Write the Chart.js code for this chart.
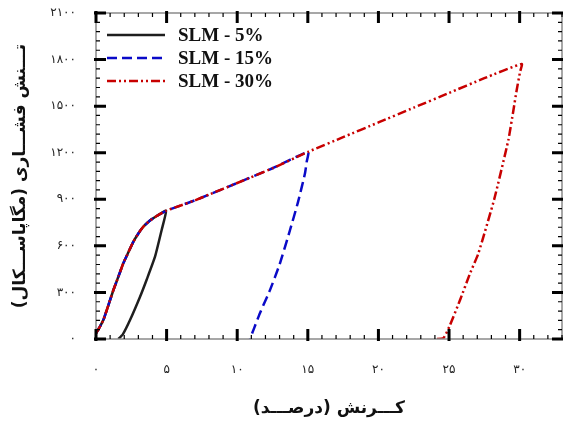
<!DOCTYPE html>
<html>
<head>
<meta charset="utf-8">
<script src="https://cdn.jsdelivr.net/npm/chart.js@4"></script>
<style>
  body { margin: 0; background: #fff; }
  #wrap { width: 563px; height: 421px; }
</style>
</head>
<body>
<div id="wrap"><canvas id="myChart" width="563" height="421"></canvas></div>
<script>
// loading branch shared by all three samples
const loadStrain = [0, 0.25, 0.52, 0.85, 1.23, 1.6, 1.93, 2.3, 2.64, 3.0, 3.35, 3.8, 4.3, 4.96]
const loadStress = [37, 75, 122, 210, 315, 405, 487, 560, 626, 680, 723, 762, 792, 826]
// linear part after the knee
const plateauStrain = [6, 7, 8, 10, 12.5, 15.03, 17.5, 20, 22.5, 25, 27.5, 30.15]
const plateauStress = [860, 893, 930, 1005, 1100, 1206, 1300, 1395, 1490, 1585, 1680, 1772]
// unloading branches
const unload5Strain = [4.96, 4.65, 4.18, 3.6, 3.12, 2.41, 1.9, 1.58]
const unload5Stress = [826, 702, 530, 385, 272, 122, 30, 0]
const unload15Strain = [15.03, 14.92, 14.8, 14.3, 13.74, 13.0, 12.32, 11.6, 11.2, 10.9]
const unload15Stress = [1206, 1141, 1067, 880, 702, 480, 315, 165, 70, 0]
const unload30Strain = [30.15, 30.03, 29.79, 29.56, 29.2, 28.2, 27.08, 26.49, 25.78, 25.07, 24.6, 24.0]
const unload30Stress = [1772, 1721, 1603, 1474, 1281, 900, 552, 423, 251, 90, 5, 0]

const labels = ['SLM - 5%', 'SLM - 15%', 'SLM - 30%']
const xTicks = [0, 5, 10, 15, 20, 25, 30]
const yTicks = [0, 300, 600, 900, 1200, 1500, 1800, 2100]

const faDigits = '۰۱۲۳۴۵۶۷۸۹'
let toFa = (n) => String(n).replace(/\d/g, d => faDigits[d])

let pts = (xs, ys) => xs.map((x, i) => ({x: x, y: ys[i]}))

let nPlat15 = plateauStrain.indexOf(15.03) + 1
const data5 = pts(loadStrain, loadStress).concat(pts(unload5Strain, unload5Stress).slice(1))
const data15 = pts(loadStrain, loadStress)
    .concat(pts(plateauStrain.slice(0, nPlat15), plateauStress.slice(0, nPlat15)))
    .concat(pts(unload15Strain, unload15Stress).slice(1))
const data30 = pts(loadStrain, loadStress)
    .concat(pts(plateauStrain, plateauStress))
    .concat(pts(unload30Strain, unload30Stress).slice(1))

const colors = ['#1e1e1e', '#0a0ac8', '#c80000']
const dashes = [[], [10, 5], [9, 3, 2, 3, 2, 3]]

// inward ticks on all four sides + grey frame
const frame = {
    id: 'frame',
    afterDatasetsDraw(chart) {
        const ctx = chart.ctx
        const a = chart.chartArea
        const sx = chart.scales.x, sy = chart.scales.y
        ctx.save()
        ctx.strokeStyle = '#8a8a8a'
        ctx.lineWidth = 1.5
        ctx.strokeRect(a.left, a.top, a.right - a.left, a.bottom - a.top)
        ctx.strokeStyle = '#000'
        for (let v = 0; v <= 33; v++) {
            const p = sx.getPixelForValue(v)
            const major = v % 5 === 0
            ctx.lineWidth = major ? 3 : 1.2
            const len = major ? 10 : 4
            ctx.beginPath()
            ctx.moveTo(p, a.bottom + (major ? 2 : 0)); ctx.lineTo(p, a.bottom - len)
            ctx.moveTo(p, a.top - (major ? 2 : 0)); ctx.lineTo(p, a.top + len)
            ctx.stroke()
        }
        for (let v = 0; v <= 2100; v += 60) {
            const p = sy.getPixelForValue(v)
            const major = v % 300 === 0
            ctx.lineWidth = major ? 3 : 1.2
            const len = major ? 10 : 4
            ctx.beginPath()
            ctx.moveTo(a.left - (major ? 2 : 0), p); ctx.lineTo(a.left + len, p)
            ctx.moveTo(a.right + (major ? 2 : 0), p); ctx.lineTo(a.right - len, p)
            ctx.stroke()
        }
        // legend inside the plot
        const rows = [35, 58, 81]
        chart.data.datasets.forEach((ds, i) => {
            ctx.strokeStyle = ds.borderColor
            ctx.lineWidth = 2.5
            ctx.setLineDash(ds.borderDash)
            ctx.beginPath()
            ctx.moveTo(107, rows[i]); ctx.lineTo(165, rows[i])
            ctx.stroke()
            ctx.setLineDash([])
            ctx.fillStyle = '#111'
            ctx.font = 'bold 19px "Liberation Serif"'
            ctx.textBaseline = 'middle'
            ctx.fillText(ds.label, 178, rows[i] + 1)
        })
        ctx.restore()
    }
}

const config = {
    type: 'line',
    data: {
        datasets: [0, 1, 2].map(i => ({
            label: labels[i],
            data: [data5, data15, data30][i],
            borderColor: colors[i],
            borderDash: dashes[i],
            borderWidth: 2.5,
            pointRadius: 0,
            tension: 0.15,
            fill: false,
            order: 2 - i
        }))
    },
    options: {
        responsive: false,
        animation: false,
        layout: {padding: {top: 13, right: 1, left: 0, bottom: 0}},
        plugins: {legend: {display: false}, tooltip: {enabled: false}},
        scales: {
            x: {
                type: 'linear',
                min: 0, max: 33,
                grid: {display: false},
                border: {display: false},
                afterBuildTicks: (s) => { s.ticks = xTicks.map(v => ({value: v})) },
                afterFit: (s) => { s.height = 82; s.paddingLeft = 0; s.paddingRight = 0 },
                ticks: {
                    maxRotation: 0,
                    autoSkip: false,
                    padding: 16,
                    color: '#222',
                    font: {family: 'DejaVu Sans', size: 12},
                    callback: (v) => toFa(v)
                },
                title: {
                    display: true,
                    text: 'کـــرنش (درصـــد)',
                    color: '#111',
                    font: {family: 'DejaVu Sans', size: 17, weight: 'bold'},
                    padding: {top: 0, bottom: 2}
                }
            },
            y: {
                min: 0, max: 2100,
                grid: {display: false},
                border: {display: false},
                afterBuildTicks: (s) => { s.ticks = yTicks.map(v => ({value: v})) },
                afterFit: (s) => { s.width = 96; s.paddingTop = 0; s.paddingBottom = 0 },
                ticks: {
                    padding: 12,
                    color: '#222',
                    font: {family: 'DejaVu Sans', size: 12},
                    callback: (v) => toFa(v)
                },
                title: {
                    display: true,
                    text: 'تـــنش فشـــاری (مگاپاســـکال)',
                    color: '#111',
                    font: {family: 'DejaVu Sans', size: 17, weight: 'bold'},
                    padding: {top: 10, bottom: 0}
                }
            }
        }
    },
    plugins: [frame]
}

const chart = new Chart(document.getElementById('myChart'), config)
</script>
</body>
</html>
